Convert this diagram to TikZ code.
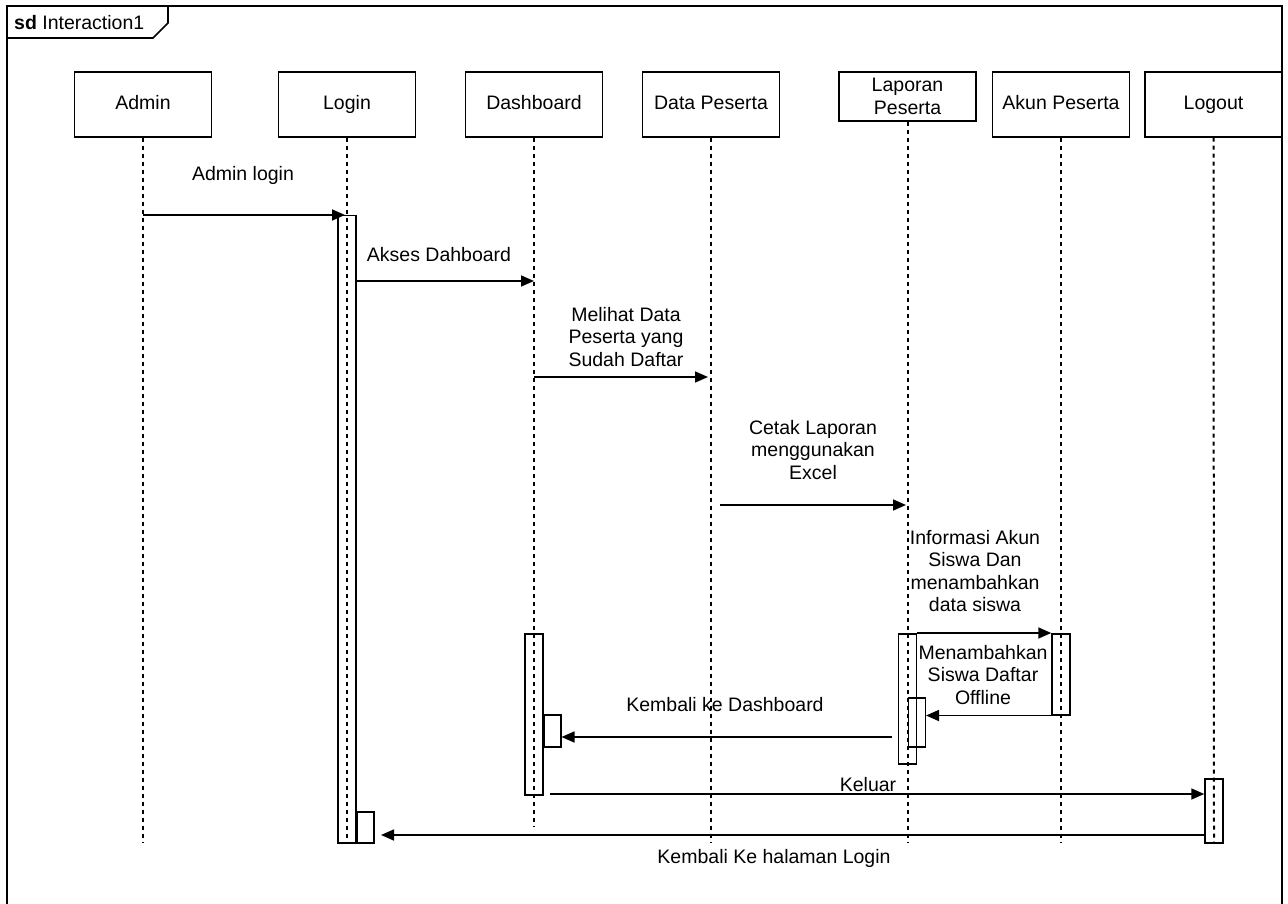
\documentclass[tikz,border=0pt]{standalone}
\usepackage{fontspec}
\setmainfont{Liberation Sans}
\usetikzlibrary{arrows.meta}
\newcommand\hdstrut{\rule[-4.5pt]{0pt}{18.5pt}}
\begin{document}
\begin{tikzpicture}[x=1pt,y=-1pt,
  txt/.style={font=\fontsize{19.5}{22.5}\selectfont, align=center, inner sep=0pt},
  head/.style={txt, draw, line width=1.6pt, minimum width=137pt, minimum height=65pt, anchor=north},
  life/.style={line width=2pt, dash pattern=on 4pt off 4pt},
  act/.style={draw, line width=1.5pt, minimum width=18pt, inner sep=0pt, anchor=north},
  selfact/.style={draw, line width=1.5pt, minimum width=17pt, inner sep=0pt, anchor=north west},
  msg/.style={line width=1.6pt, -{Triangle[length=13pt,width=11pt]}},
  frame/.style={line width=2.2pt}
]
\useasboundingbox (0,0) rectangle (1288,904);
% frame
\draw[frame] (7,904) -- (7,6) -- (1282,6) -- (1282,904);
\draw[line width=1.6pt] (7,38) -- (153,38) -- (168,23) -- (168,6);
\node[txt, anchor=west] (title) at (14,23) {\textbf{sd} Interaction1};

% lifeline heads
\node[head] (admin) at (143,71) {\hdstrut Admin};
\node[head] (login) at (347,71) {\hdstrut Login};
\node[head] (dash) at (534,71) {\hdstrut Dashboard};
\node[head] (data) at (711,71) {\hdstrut Data Peserta};
\node[head, minimum height=49pt] (lap) at (907.5,71) {Laporan\\Peserta};
\node[head] (akun) at (1061,71) {\hdstrut Akun Peserta};
\node[head] (logout) at (1213.5,71) {\hdstrut Logout};

% lifeline ends
\coordinate (adminE) at (143,842);
\coordinate (loginE) at (347,842);
\coordinate (dashE) at (534,826);
\coordinate (dataE) at (711,843);
\coordinate (lapE) at (907.5,843);
\coordinate (akunE) at (1061,843);
\coordinate (logoutE) at (1214,842);
\draw[life] (admin.south) -- (adminE);
\draw[life] (login.south) -- (loginE);
\draw[life] (dash.south) -- (dashE);
\draw[life] (data.south) -- (dataE);
\draw[life] (lap.south) -- (lapE);
\draw[life] (akun.south) -- (akunE);
\draw[life] (logout.south) -- (logoutE);

% activations
\node[act, minimum height=627pt] (aLogin) at (347,215) {};
\node[selfact, minimum height=31pt] (sLogin) at (356,811) {};
\node[act, minimum height=161pt] (aDash) at (534,633) {};
\node[selfact, minimum height=32pt] (sDash) at (543,714) {};
\node[act, minimum height=130pt] (aLap) at (907.5,633) {};
\node[selfact, minimum height=49pt] (sLap) at (907.5,697) {};
\node[act, minimum height=81pt] (aAkun) at (1061,633) {};
\node[act, minimum height=64pt] (aLogout) at (1214,778) {};

% message endpoints
\coordinate (m1s) at (143,215);
\coordinate (m1e) at (345,215);
\coordinate (m2s) at (356,281);
\coordinate (m2e) at (534,281);
\coordinate (m3s) at (534,377);
\coordinate (m3e) at (708,377);
\coordinate (m4s) at (720,505);
\coordinate (m4e) at (906,505);
\coordinate (m9s) at (892,737);
\coordinate (m10s) at (550,794);
\coordinate (m11e) at (381,835);

\draw[msg] (m1s) -- (m1e);
\draw[msg] (m2s) -- (m2e);
\draw[msg] (m3s) -- (m3e);
\draw[msg] (m4s) -- (m4e);
\draw[msg] (aLap.north east) -- (aAkun.north west);
\draw[msg] (aAkun.south west) -- (aAkun.south west -| sLap.east);
\draw[msg] (m9s) -- (m9s -| sDash.east);
\draw[msg] (m10s) -- (m10s -| aLogout.west);
\draw[msg] (aLogout.west |- m11e) -- (m11e);

% labels
\node[txt] (l1) at (243,175) {Admin login};
\node[txt] (l2) at (439,255) {Akses Dahboard};
\node[txt] (l3) at (626,337) {Melihat Data\\Peserta yang\\Sudah Daftar};
\node[txt] (l4) at (813,450) {Cetak Laporan\\menggunakan\\Excel};
\node[txt] (l5) at (975,571) {Informasi Akun\\Siswa Dan\\menambahkan\\data siswa};
\node[txt] (l6) at (983,675) {Menambahkan\\Siswa Daftar\\Offline};
\node[txt] (l7) at (725,705) {Kembali ke Dashboard};
\node[txt] (l8) at (868,785) {Keluar};
\node[txt] (l9) at (774,858) {Kembali Ke halaman Login};
\end{tikzpicture}
\end{document}
